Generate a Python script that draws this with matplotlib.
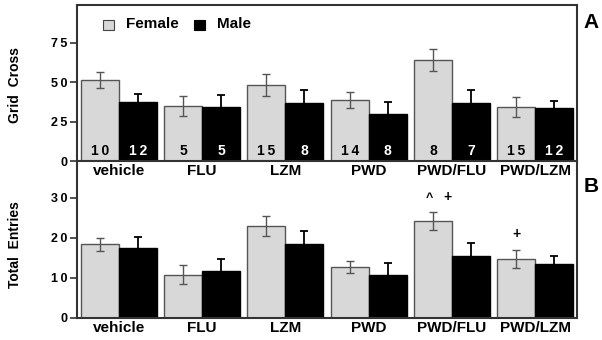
import matplotlib
matplotlib.use("Agg")
import matplotlib.pyplot as plt
import numpy as np
from matplotlib.patches import Rectangle

plt.rcParams['font.family'] = ['Liberation Sans', 'DejaVu Sans']
plt.rcParams['font.weight'] = 'bold'

groups = ["vehicle", "FLU", "LZM", "PWD", "PWD/FLU", "PWD/LZM"]
grid_female = [51.5, 34.8, 48.5, 38.6, 64.1, 34.2]
grid_female_err = [5.0, 6.3, 7.0, 5.0, 7.0, 6.4]
grid_male = [37.7, 34.2, 37.1, 30.1, 37.1, 33.7]
grid_male_err = [5.0, 7.6, 8.0, 7.6, 8.0, 4.3]
n_female = ["10", "5", "15", "14", "8", "15"]
n_male = ["12", "5", "8", "8", "7", "12"]
grid_ticks = [0, 25, 50, 75]

entries_female = [18.4, 10.8, 23.0, 12.75, 24.2, 14.7]
entries_female_err = [1.7, 2.4, 2.6, 1.4, 2.2, 2.2]
entries_male = [17.4, 11.7, 18.4, 10.8, 15.5, 13.6]
entries_male_err = [2.9, 3.0, 3.3, 3.0, 3.2, 1.8]
entries_ticks = [0, 10, 20, 30]

SP = "\u2009"

def spaced(s):
    return SP.join(list(str(s)))

W, H = 602, 340
fig = plt.figure(figsize=(W / 100, H / 100), dpi=100)

def ax_rect(x0, y0, x1, y1):
    return [x0 / W, 1 - y1 / H, (x1 - x0) / W, (y1 - y0) / H]

axA = fig.add_axes(ax_rect(77, 5, 577, 161))
axB = fig.add_axes(ax_rect(77, 161, 577, 318))

x = np.arange(len(groups))
bw = 0.456
fcol = '#d8d8d8'
spine_col = '#333333'

def draw(ax, fv, fe, mv, me, ticks):
    ax.bar(x - bw / 2, fv, bw, color=fcol, edgecolor='#555555', linewidth=1.0, zorder=2)
    ax.bar(x + bw / 2, mv, bw, color='black', edgecolor='black', linewidth=1.0, zorder=2)
    ax.errorbar(x - bw / 2, fv, yerr=fe, fmt='none', ecolor='#555555', elinewidth=1.0,
                capsize=3, capthick=1.0, zorder=3)
    ax.errorbar(x + bw / 2, mv, yerr=me, fmt='none', ecolor='black', elinewidth=1.3,
                capsize=3, capthick=1.3, zorder=3)
    ax.set_xlim(-0.5, len(groups) - 0.5)
    ax.set_xticks(x)
    ax.set_xticklabels(groups, fontsize=11, fontweight='bold')
    ax.tick_params(axis='x', length=0, pad=2)
    ax.set_yticks(ticks)
    ax.set_yticklabels([spaced(t) for t in ticks], fontsize=9, fontweight='bold')
    ax.tick_params(axis='y', length=5, width=1.2, color=spine_col, pad=2, direction='out')
    for s in ax.spines.values():
        s.set_color(spine_col)
        s.set_linewidth(1.5)

draw(axA, grid_female, grid_female_err, grid_male, grid_male_err, grid_ticks)
axA.set_ylim(0, 99)
for i in range(len(groups)):
    axA.text(x[i] - bw / 2, 6.5, spaced(n_female[i]), ha='center', va='center', fontsize=10,
             fontweight='bold', color='black', zorder=4)
    axA.text(x[i] + bw / 2, 6.5, spaced(n_male[i]), ha='center', va='center', fontsize=10,
             fontweight='bold', color='white', zorder=4)

draw(axB, entries_female, entries_female_err, entries_male, entries_male_err, entries_ticks)
axB.set_ylim(0, 39.25)
axB.spines['top'].set_visible(False)
axB.patch.set_alpha(0)

fig.text(15 / W, 1 - 85 / H, "Grid  Cross", rotation=90, fontsize=10, fontweight='bold',
         ha='center', va='center')
fig.text(15 / W, 1 - 245 / H, "Total  Entries", rotation=90, fontsize=10, fontweight='bold',
         ha='center', va='center')

# significance marks
axB.text(x[4] - bw / 2 - 0.04, 30.0, "^", ha='center', va='center', fontsize=9, fontweight='bold')
axB.text(x[4] - bw / 2 + 0.18, 30.2, "+", ha='center', va='center', fontsize=10, fontweight='bold')
axB.text(x[5] - bw / 2, 21.0, "+", ha='center', va='center', fontsize=10, fontweight='bold')

# legend
fig.patches.append(Rectangle((103 / W, 1 - 29.5 / H), 10.5 / W, 10 / H, transform=fig.transFigure,
                             facecolor=fcol, edgecolor='#444444', linewidth=0.8))
fig.text(126 / W, 1 - 24 / H, "Female", fontsize=11, fontweight='bold', va='center', ha='left')
fig.patches.append(Rectangle((194 / W, 1 - 29.5 / H), 11 / W, 10 / H, transform=fig.transFigure,
                             facecolor='black', edgecolor='black', linewidth=0.8))
fig.text(217.5 / W, 1 - 24 / H, "Male", fontsize=11, fontweight='bold', va='center', ha='left')

fig.text(591 / W, 1 - 23 / H, "A", fontsize=15, fontweight='bold', va='center', ha='center')
fig.text(591 / W, 1 - 186 / H, "B", fontsize=15, fontweight='bold', va='center', ha='center')

fig.savefig("out.png", dpi=100)
